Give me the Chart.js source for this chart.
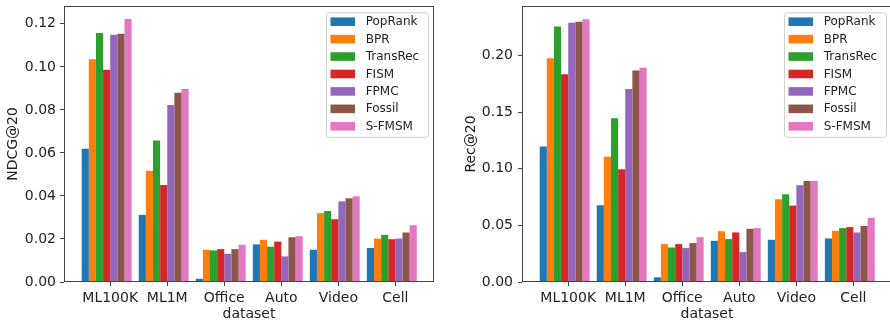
<!DOCTYPE html>
<html lang="en">
<head>
<meta charset="UTF-8">
<title>NDCG@20 and Rec@20 by dataset</title>
<style>
  html, body { margin: 0; padding: 0; background: #fff; overflow: hidden; }
  #wrap { position: relative; width: 890px; height: 325px; overflow: hidden; }
  .panel { position: absolute; top: 0; height: 325px; }
  .panel canvas { display: block; }
  #left { left: 0; width: 445px; }
  #right { left: 445px; width: 450px; }
</style>
</head>
<body>
<div id="wrap">
  <div class="panel" id="left"><canvas id="ndcgChart" width="445" height="325"></canvas></div>
  <div class="panel" id="right"><canvas id="recChart" width="450" height="325"></canvas></div>
</div>
<script src="https://cdn.jsdelivr.net/npm/chart.js"></script>
<script>
const datasetNames = ['ML100K', 'ML1M', 'Office', 'Auto', 'Video', 'Cell'];
const methods = ['PopRank', 'BPR', 'TransRec', 'FISM', 'FPMC', 'Fossil', 'S-FMSM'];
const colors = ['#1f77b4', '#ff7f0e', '#2ca02c', '#d62728', '#9467bd', '#8c564b', '#e377c2'];

// NDCG@20 per method, in datasetNames order
const ndcgPopRank  = [0.0619, 0.0312, 0.0015, 0.0175, 0.0150, 0.0158];
const ndcgBPR      = [0.1035, 0.0517, 0.0150, 0.0196, 0.0320, 0.0202];
const ndcgTransRec = [0.1157, 0.0658, 0.0147, 0.0164, 0.0330, 0.0219];
const ndcgFISM     = [0.0987, 0.0451, 0.0153, 0.0188, 0.0292, 0.0199];
const ndcgFPMC     = [0.1149, 0.0823, 0.0131, 0.0119, 0.0375, 0.0202];
const ndcgFossil   = [0.1154, 0.0880, 0.0153, 0.0208, 0.0389, 0.0230];
const ndcgSFMSM    = [0.1222, 0.0897, 0.0173, 0.0213, 0.0398, 0.0264];

// Rec@20 per method
const recPopRank  = [0.1198, 0.0678, 0.0041, 0.0364, 0.0373, 0.0385];
const recBPR      = [0.1977, 0.1107, 0.0335, 0.0449, 0.0731, 0.0452];
const recTransRec = [0.2258, 0.1448, 0.0305, 0.0379, 0.0775, 0.0476];
const recFISM     = [0.1836, 0.0996, 0.0335, 0.0438, 0.0675, 0.0485];
const recFPMC     = [0.2291, 0.1706, 0.0300, 0.0264, 0.0855, 0.0438];
const recFossil   = [0.2300, 0.1868, 0.0344, 0.0470, 0.0893, 0.0496];
const recSFMSM    = [0.2323, 0.1894, 0.0396, 0.0476, 0.0893, 0.0567];

const ndcgTicks = [0, 0.02, 0.04, 0.06, 0.08, 0.10, 0.12];
const recTicks = [0, 0.05, 0.10, 0.15, 0.20];

const ndcgSeries = [ndcgPopRank, ndcgBPR, ndcgTransRec, ndcgFISM, ndcgFPMC, ndcgFossil, ndcgSFMSM];
const recSeries = [recPopRank, recBPR, recTransRec, recFISM, recFPMC, recFossil, recSFMSM];

const textColor = '#222';
const axisColor = '#444';
const bigFont = { family: 'DejaVu Sans', size: 14 };

// spines + matplotlib style legend in the upper right corner
const frameAndLegend = {
  id: 'frameAndLegend',
  afterDatasetsDraw(chart) {
    const { ctx, chartArea: a } = chart;
    ctx.save();
    ctx.strokeStyle = axisColor;
    ctx.lineWidth = 1;
    ctx.strokeRect(Math.round(a.left) + 0.5, Math.round(a.top) + 0.5,
                   Math.round(a.right - a.left) - 1, Math.round(a.bottom - a.top) - 1);

    const w = 102, h = 124.5;
    const x0 = a.right - 6 - w, y0 = a.top + 6.3;
    ctx.beginPath();
    ctx.roundRect(x0 + 0.5, y0 + 0.5, w, h, 3);
    ctx.fillStyle = 'rgba(255,255,255,0.8)';
    ctx.fill();
    ctx.strokeStyle = '#d0d0d0';
    ctx.stroke();

    ctx.font = '12px "DejaVu Sans"';
    ctx.textBaseline = 'middle';
    ctx.textAlign = 'left';
    chart.data.datasets.forEach((ds, k) => {
      const cy = y0 + 9.4 + k * 17.43;
      ctx.fillStyle = ds.backgroundColor;
      ctx.fillRect(x0 + 4.5, cy - 4.3, 24.5, 8.6);
      ctx.fillStyle = textColor;
      ctx.fillText(ds.label, x0 + 39.7, cy + 0.5);
    });
    ctx.restore();
  }
};

function makeChart(id, series, yTicks, yMax, yTitle, yWidth, yTitlePad, yTickPad, padRight) {
  const ctx = document.getElementById(id).getContext('2d');
  return new Chart(ctx, {
    type: 'bar',
    data: {
      datasets: methods.map((m, j) => ({
        label: m,
        data: series[j].map((v, i) => ({ x: i, y: v })),
        backgroundColor: colors[j],
        borderWidth: 0,
        categoryPercentage: 0.875,
        barPercentage: 1
      }))
    },
    options: {
      responsive: false,
      animation: false,
      layout: { padding: { left: 0, right: padRight, top: 6, bottom: 0 } },
      plugins: { legend: { display: false }, tooltip: { enabled: false } },
      scales: {
        x: {
          type: 'linear',
          offset: false,
          bounds: 'data',
          min: -0.748,
          max: 5.74,
          afterBuildTicks: s => { s.ticks = datasetNames.map((d, i) => ({ value: i + 0.0625 })); },
          afterFit: s => { s.height = 43; s.paddingLeft = 0; s.paddingRight = 0; },
          ticks: {
            callback: (v, i) => datasetNames[i],
            font: bigFont, color: textColor, padding: 4, maxRotation: 0, autoSkip: false
          },
          grid: { offset: false, drawOnChartArea: false, tickLength: 4, color: axisColor },
          border: { display: false },
          title: { display: true, text: 'dataset', font: bigFont, color: textColor, padding: { top: 0, bottom: 2 } }
        },
        y: {
          type: 'linear',
          bounds: 'data',
          min: 0,
          max: yMax,
          afterBuildTicks: s => { s.ticks = yTicks.map(v => ({ value: v })); },
          afterFit: s => { s.width = yWidth; s.paddingTop = 0; s.paddingBottom = 0; },
          ticks: {
            callback: v => v.toFixed(2),
            font: bigFont, color: textColor, padding: yTickPad
          },
          grid: { drawOnChartArea: false, tickLength: 4, color: axisColor },
          border: { display: false },
          title: { display: true, text: yTitle, font: bigFont, color: textColor, padding: { top: yTitlePad, bottom: 0 } }
        }
      }
    },
    plugins: [frameAndLegend]
  });
}

makeChart('ndcgChart', ndcgSeries, ndcgTicks, 0.1283, 'NDCG@20', 64, 4.9, 4, 11);
makeChart('recChart', recSeries, recTicks, 0.2439, 'Rec@20', 77, 17.6, 5, 3);
</script>
</body>
</html>
